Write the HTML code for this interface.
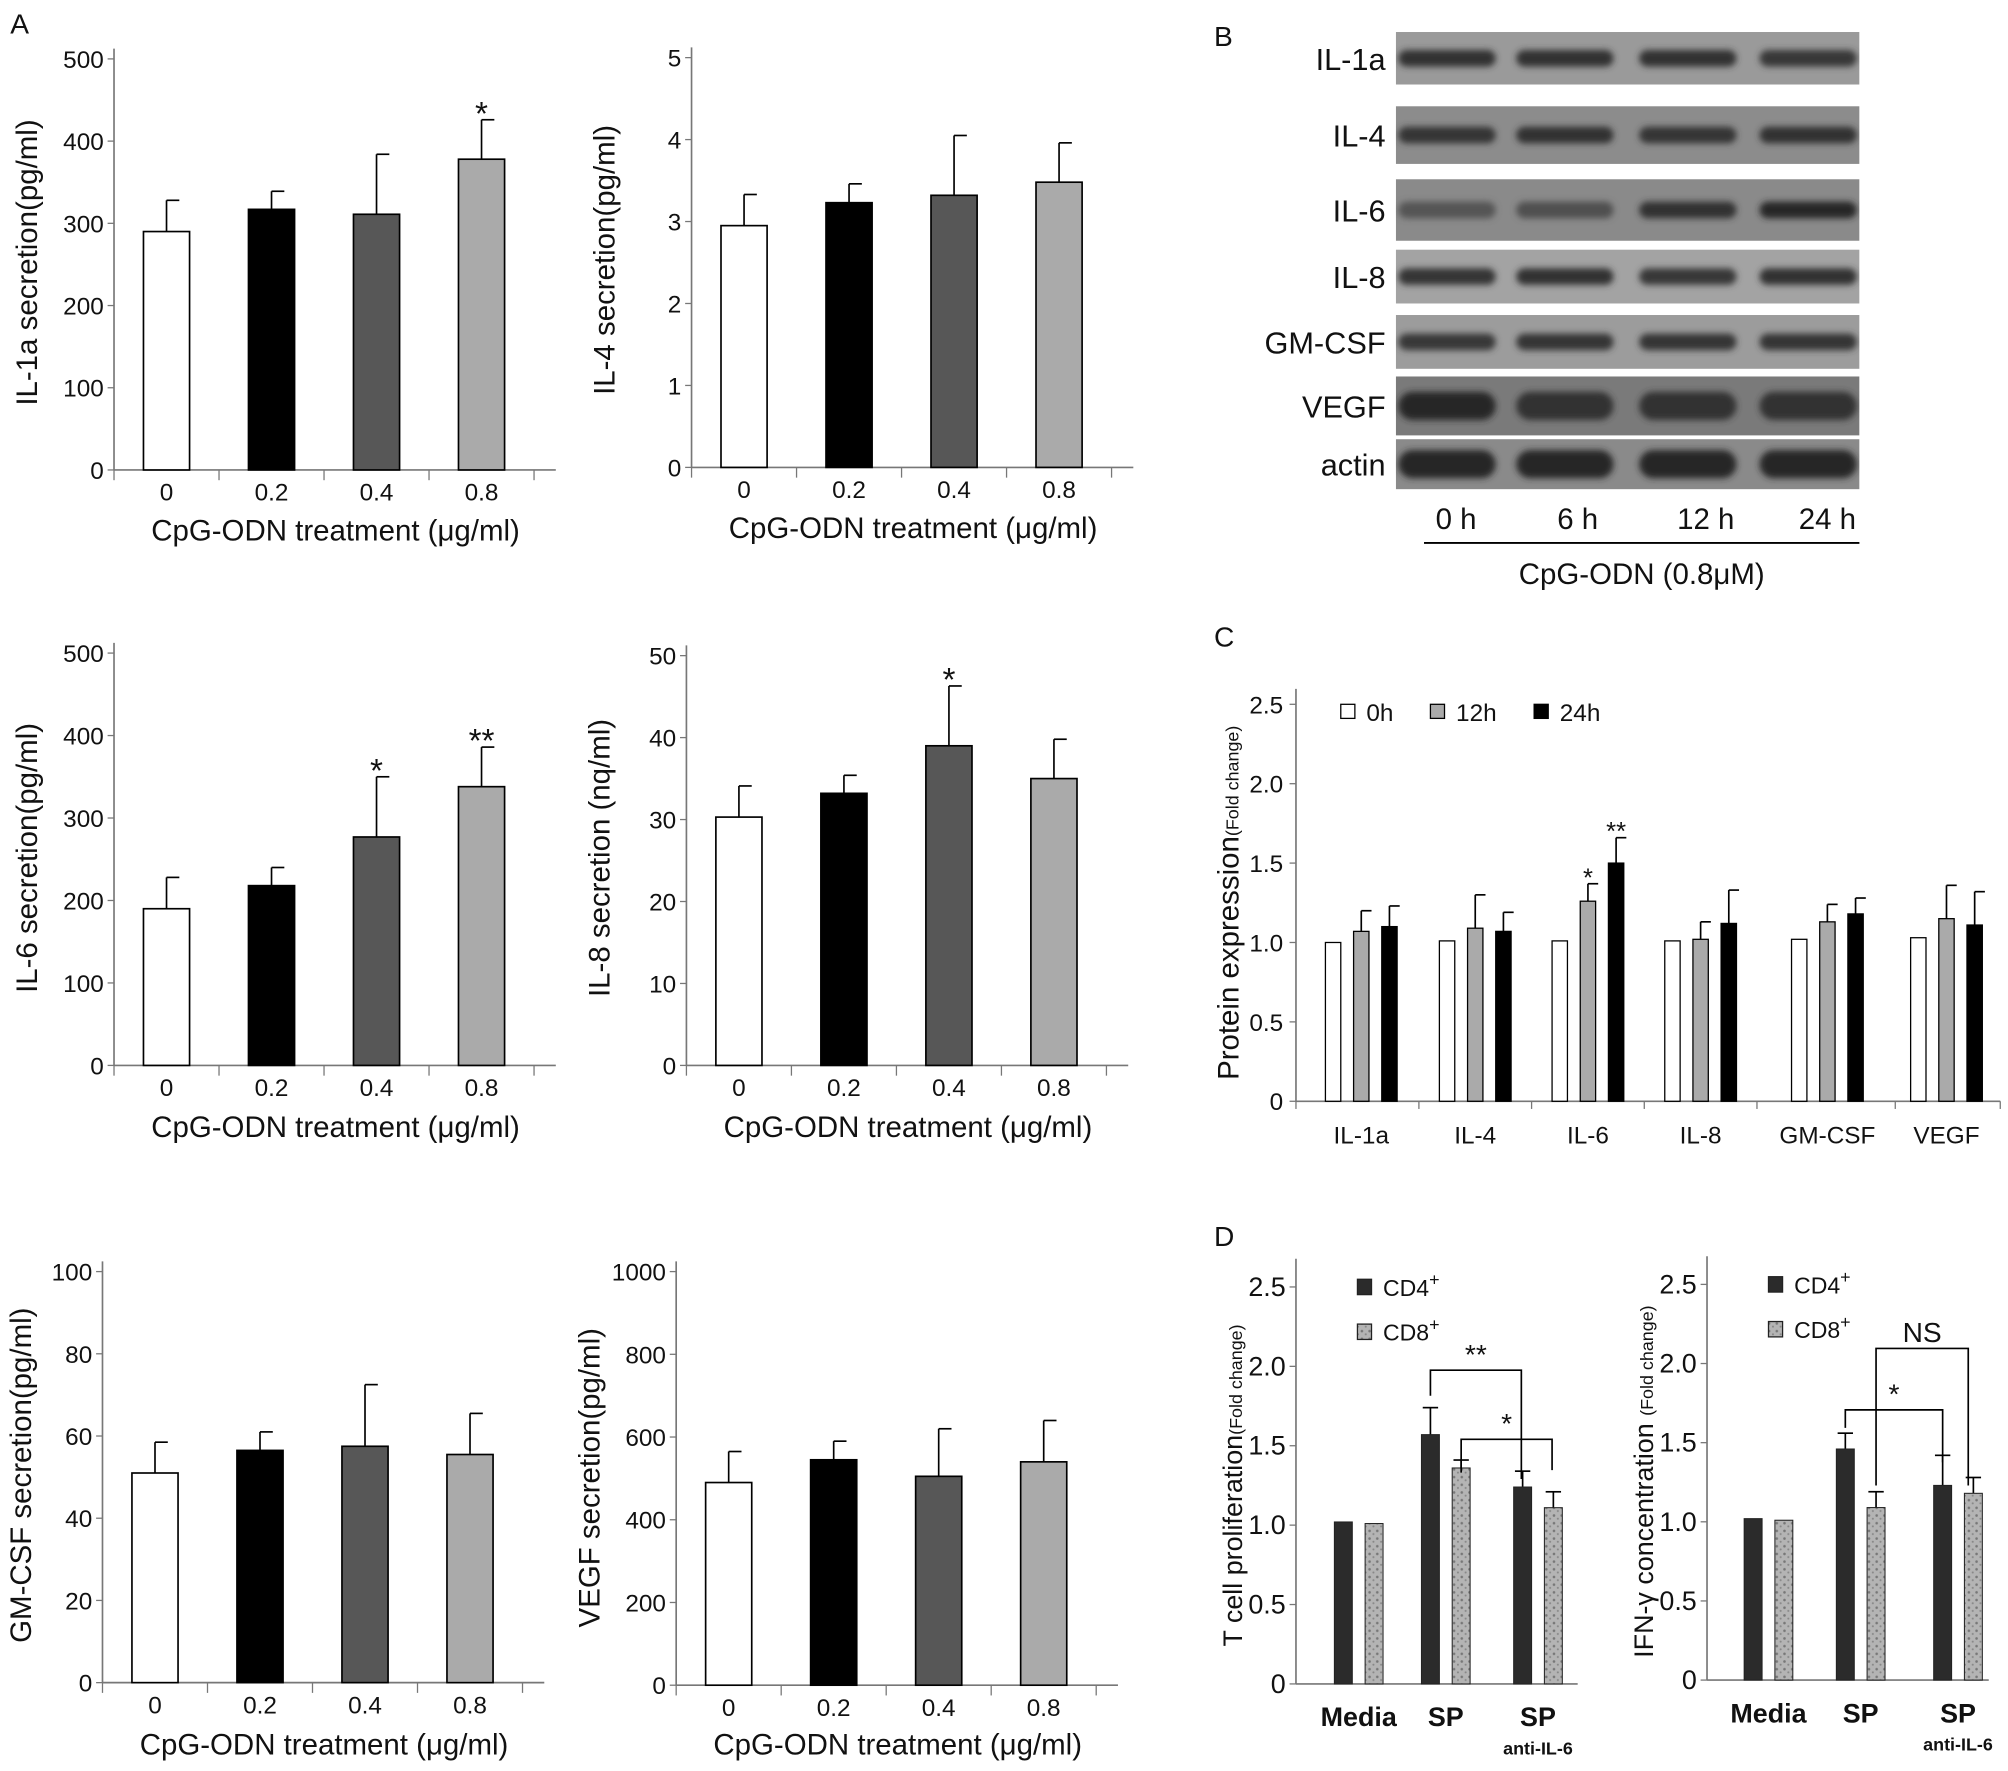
<!DOCTYPE html>
<html><head><meta charset="utf-8">
<style>
html,body{margin:0;padding:0;background:#fff;}
svg{display:block;}
text{font-family:"Liberation Sans","DejaVu Sans",sans-serif;fill:#111;}
</style></head>
<body>
<svg id="fig" width="2008" height="1771" viewBox="0 0 1568 1383" xmlns="http://www.w3.org/2000/svg">
<defs>
<pattern id="speck" width="6" height="6" patternUnits="userSpaceOnUse">
<rect width="6" height="6" fill="#b4b4b4"/><circle cx="1.5" cy="1.5" r="1" fill="#777"/><circle cx="4.5" cy="4" r="0.8" fill="#888"/>
</pattern>
<filter id="blur" x="-20%" y="-50%" width="140%" height="200%"><feGaussianBlur stdDeviation="2.5"/></filter>
<clipPath id="blotclip"><rect x="1090" y="0" width="362" height="400"/></clipPath>
</defs>
<text x="8" y="26" font-size="22">A</text>
<text x="948" y="36" font-size="22">B</text>
<text x="948" y="505" font-size="22">C</text>
<text x="948" y="973" font-size="22">D</text>
<g id="g"></g>
</svg>
<script>
// ---- Panel A data ----
const doseLabels=["0","0.2","0.4","0.8"];
const il1aVals=[290,317,311,378]; const il1aErr=[38,22,73,48]; const il1aSig=["","","","*"];
const il4Vals=[2.95,3.23,3.32,3.48]; const il4Err=[0.38,0.23,0.73,0.48]; const il4Sig=["","","",""];
const il6Vals=[190,218,277,338]; const il6Err=[38,22,73,48]; const il6Sig=["","","*","**"];
const il8Vals=[30.3,33.2,39,35]; const il8Err=[3.8,2.2,7.3,4.8]; const il8Sig=["","","*",""];
const gmVals=[51,56.5,57.5,55.5]; const gmErr=[7.5,4.5,15,10]; const gmSig=["","","",""];
const vegfVals=[490,545,505,540]; const vegfErr=[75,45,115,100]; const vegfSig=["","","",""];
const il1aTicks=[0,100,200,300,400,500];
const il4Ticks=[0,1,2,3,4,5];
const il6Ticks=[0,100,200,300,400,500];
const il8Ticks=[0,10,20,30,40,50];
const gmTicks=[0,20,40,60,80,100];
const vegfTicks=[0,200,400,600,800,1000];
// ---- Panel C data ----
const cCats=["IL-1a","IL-4","IL-6","IL-8","GM-CSF","VEGF"];
const c0h=[1.0,1.01,1.01,1.01,1.02,1.03];
const c12h=[1.07,1.09,1.26,1.02,1.13,1.15];
const c12hErr=[0.13,0.21,0.11,0.11,0.11,0.21];
const c24h=[1.10,1.07,1.50,1.12,1.18,1.11];
const c24hErr=[0.13,0.12,0.16,0.21,0.10,0.21];
const c12hSig=["","","*","","",""];
const c24hSig=["","","**","","",""];
const foldTicks=["0","0.5","1.0","1.5","2.0","2.5"];
// ---- Panel D data ----
const dCats=["Media","SP","SP"];
const d1CD4=[1.02,1.57,1.24]; const d1CD4Err=[0,0.17,0.10];
const d1CD8=[1.01,1.36,1.11]; const d1CD8Err=[0,0.05,0.10];
const d2CD4=[1.02,1.46,1.23]; const d2CD4Err=[0,0.10,0.19];
const d2CD8=[1.01,1.09,1.18]; const d2CD8Err=[0,0.10,0.10];
// ---- Panel B data (band intensity 0..1) ----
const blotRows=["IL-1a","IL-4","IL-6","IL-8","GM-CSF","VEGF","actin"];
const blotTimes=["0 h","6 h","12 h","24 h"];
const blotIntensity=[[0.9,0.9,0.9,0.8],[0.85,0.9,0.85,0.9],[0.45,0.5,0.9,1],[0.85,0.9,0.8,0.9],[0.8,0.85,0.85,0.85],[1,0.9,0.9,0.9],[1,1,1,1]];

const NS="http://www.w3.org/2000/svg";
const root=document.getElementById('g');
function el(tag,attrs,parent){const e=document.createElementNS(NS,tag);for(const k in attrs)e.setAttribute(k,attrs[k]);(parent||root).appendChild(e);return e;}
function txt(x,y,s,size,anchor,parent,extra){const t=el('text',Object.assign({x:x,y:y,'font-size':size,'text-anchor':anchor||'middle'},extra||{}),parent);t.textContent=s;return t;}

function panelA(name,ax,base,top,ticks,vals,errs,sig,ylabel,xlabelY){
  const g=el('g',{});
  
  
  const max=ticks[ticks.length-1];
  const y=v=>base-(v/max)*(base-top);
  el('line',{x1:ax,y1:top-8,x2:ax,y2:base,stroke:'#777','stroke-width':1.3},g);
  el('line',{x1:ax,y1:base,x2:ax+345,y2:base,stroke:'#777','stroke-width':1.3},g);
  ticks.forEach(t=>{
    el('line',{x1:ax-5,y1:y(t),x2:ax,y2:y(t),stroke:'#777'},g);
    const tl=txt(ax-8,y(t)+7,String(t),19,'end',g);
    
    
  });
  for(let i=0;i<=4;i++) el('line',{x1:ax+i*82,y1:base,x2:ax+i*82,y2:base+8,stroke:'#777'},g);
  const fills=['#fff','#000','#575757','#aaa'];
  vals.forEach((v,i)=>{
    const cx=ax+41+i*82;
    const e=errs[i];
    el('line',{x1:cx,y1:y(v),x2:cx,y2:y(v+e),stroke:'#000','stroke-width':1.3},g);
    el('line',{x1:cx,y1:y(v+e),x2:cx+10,y2:y(v+e),stroke:'#000','stroke-width':1.3},g);
    const b=el('rect',{x:cx-18,y:y(v),width:36,height:base-y(v),fill:fills[i],stroke:'#000','stroke-width':1.3},g);
    
    
    if(sig[i]){txt(cx,y(v+e)+4,sig[i],26,'middle',g);}
    const xl=txt(cx,base+24,doseLabels[i],19,'middle',g);
    
    
  });
  const xt=txt(ax+173,xlabelY,'CpG-ODN treatment (μg/ml)',23,'middle',g);
  
  
  const lx=Math.max(ax-60,24);
  const yt=txt(0,0,ylabel,23,'middle',g,{transform:`translate(${lx},${base-162}) rotate(-90)`});
  
  
}
panelA('il1a',89,367,46,il1aTicks,il1aVals,il1aErr,il1aSig,'IL-1a  secretion(pg/ml)',422);
panelA('il4',540,365,45,il4Ticks,il4Vals,il4Err,il4Sig,'IL-4  secretion(pg/ml)',420);
panelA('il6',89,832,510,il6Ticks,il6Vals,il6Err,il6Sig,'IL-6 secretion(pg/ml)',888);
panelA('il8',536,832,512,il8Ticks,il8Vals,il8Err,il8Sig,'IL-8 secretion (nq/ml)',888);
panelA('gmcsf',80,1314,993,gmTicks,gmVals,gmErr,gmSig,'GM-CSF secretion(pg/ml)',1370);
panelA('vegf',528,1316,993,vegfTicks,vegfVals,vegfErr,vegfSig,'VEGF secretion(pg/ml)',1370);

// ---- Panel B: western blot ----
(function(){
  const g=el('g',{});
  
  
  const rows=[[25,66],[83,128],[140,188],[195,237],[246,288],[294,340],[343,382]];
  const bgs=['#9a9a9a','#8c8c8c','#8a8a8a','#a3a3a3','#9c9c9c','#7a7a7a','#8a8a8a'];
  const lanes=[1130,1222,1318,1412];
  const bands=el('g',{'clip-path':'url(#blotclip)'},g);
  rows.forEach((r,i)=>{
    el('rect',{x:1090,y:r[0],width:362,height:r[1]-r[0],fill:bgs[i]},bands);
    const cy=(r[0]+r[1])/2;
    const h=(i>=5?22:13);
    blotIntensity[i].forEach((v,j)=>{
      const c=Math.round(40+(1-v)*80);
      el('rect',{x:lanes[j]-38,y:cy-h/2,width:76,height:h,rx:h/2,fill:`rgb(${c},${c},${c})`,filter:'url(#blur)'},bands);
    });
    const lab=txt(1082,cy+9,blotRows[i],24,'end',g);
    
    
  });
  [1137,1232,1332,1427].forEach((x,j)=>{txt(x,413,blotTimes[j],23,'middle',g);});
  el('line',{x1:1112,y1:424,x2:1452,y2:424,stroke:'#000','stroke-width':1.5},g);
  txt(1282,456,'CpG-ODN  (0.8μM)',23,'middle',g);
})();

// ---- Panel C ----
(function(){
  const g=el('g',{});
  
  
  const ax=1012,base=860,top=550,max=2.5;
  const y=v=>base-(v/max)*(base-top);
  el('line',{x1:ax,y1:top-12,x2:ax,y2:base,stroke:'#777','stroke-width':1.3},g);
  el('line',{x1:ax,y1:base,x2:1562,y2:base,stroke:'#777','stroke-width':1.3},g);
  foldTicks.forEach((t,i)=>{const v=i*0.5;el('line',{x1:ax-5,y1:y(v),x2:ax,y2:y(v),stroke:'#777'},g);txt(ax-10,y(v)+7,t,19,'end',g);});
  const centers=[1063,1152,1240,1328,1427,1520];
  [1012,1108,1196,1284,1372,1480,1562].forEach(x=>el('line',{x1:x,y1:base,x2:x,y2:base+6,stroke:'#777'},g));
  const series=[[c0h,null,'#fff',null],[c12h,c12hErr,'#aaa',c12hSig],[c24h,c24hErr,'#000',c24hSig]];
  cCats.forEach((c,i)=>{
    series.forEach((s,k)=>{
      const cx=centers[i]+(k-1)*22;const v=s[0][i];
      if(s[1]){const e=s[1][i];
        el('line',{x1:cx,y1:y(v),x2:cx,y2:y(v+e),stroke:'#000','stroke-width':1.3},g);
        el('line',{x1:cx,y1:y(v+e),x2:cx+8,y2:y(v+e),stroke:'#000','stroke-width':1.3},g);
        if(s[3][i]) txt(cx,y(v+e)+2,s[3][i],20,'middle',g);}
      const b=el('rect',{x:cx-6,y:y(v),width:12,height:base-y(v),fill:s[2],stroke:'#000','stroke-width':1},g);
      
      
    });
    txt(centers[i],893,c,19,'middle',g);
  });
  [['0h','#fff',1047],['12h','#aaa',1117],['24h','#000',1198]].forEach(l=>{
    const lg=el('g',{},g);
    
    
    el('rect',{x:l[2],y:550,width:11,height:11,fill:l[1],stroke:'#000'},lg);
    txt(l[2]+20,563,l[0],19,'start',lg);
  });
  const yt=txt(0,0,'Protein expression',23,'middle',g,{transform:'translate(967,705) rotate(-90)'});
  
  
  const sp=document.createElementNS(NS,'tspan');sp.setAttribute('font-size','14');sp.textContent='(Fold change)';yt.appendChild(sp);
})();

// ---- Panel D ----
function panelD(name,ax,base,top,cd4,cd4e,cd8,cd8e,centers,ylab1,labY,yLabX){
  const g=el('g',{});
  
  
  const max=2.5;const y=v=>base-(v/max)*(base-top);
  el('line',{x1:ax,y1:top-22,x2:ax,y2:base,stroke:'#777','stroke-width':1.3},g);
  el('line',{x1:ax,y1:base,x2:ax+220,y2:base,stroke:'#777','stroke-width':1.3},g);
  foldTicks.forEach((t,i)=>{const v=i*0.5;el('line',{x1:ax-5,y1:y(v),x2:ax,y2:y(v),stroke:'#777'},g);txt(ax-8,y(v)+7,t,21,'end',g);});
  centers.forEach((c,i)=>{
    [[cd4,cd4e,'#2b2b2b',-12],[cd8,cd8e,'url(#speck)',12]].forEach(s=>{
      const cx=c+s[3];const v=s[0][i];const e=s[1][i];
      if(e>0){el('line',{x1:cx,y1:y(v),x2:cx,y2:y(v+e),stroke:'#000','stroke-width':1.3},g);
        el('line',{x1:cx-6,y1:y(v+e),x2:cx+6,y2:y(v+e),stroke:'#000','stroke-width':1.3},g);}
      const b=el('rect',{x:cx-7,y:y(v),width:14,height:base-y(v),fill:s[2],stroke:'#222','stroke-width':0.8},g);
      
      
    });
    txt(c,labY,dCats[i],21,'middle',g,{'font-weight':'bold'});
  });
  txt(centers[2],labY+22,'anti-IL-6',14,'middle',g,{'font-weight':'bold'});
  [['CD4','#2b2b2b',top],['CD8','url(#speck)',top+35]].forEach(l=>{
    const lg=el('g',{},g);
    
    
    el('rect',{x:ax+48,y:l[2]-6,width:11,height:12,fill:l[1],stroke:'#222'},lg);
    const t=txt(ax+68,l[2]+7,l[0],18,'start',lg);
    const sp=document.createElementNS(NS,'tspan');sp.setAttribute('dy','-8');sp.setAttribute('font-size','14');sp.textContent='+';t.appendChild(sp);
  });
  const yt=txt(0,0,ylab1,21,'middle',g,{transform:`translate(${yLabX},${base-155}) rotate(-90)`});
  
  
  const sp=document.createElementNS(NS,'tspan');sp.setAttribute('font-size','14');sp.textContent='(Fold change)';yt.appendChild(sp);
}
panelD('t-cell-proliferation-chart',1012,1315,1005,d1CD4,d1CD4Err,d1CD8,d1CD8Err,[1061,1129,1201],'T cell proliferation',1348,970);
panelD('ifn-gamma-chart',1333,1312,1003,d2CD4,d2CD4Err,d2CD8,d2CD8Err,[1381,1453,1529],'IFN-γ concentration ',1345,1291);
(function(){
  const g=el('g',{});
  
  
  const br=[[1117,1070,1090,1188,1155,'**'],[1141,1124,1150,1212,1148,'*'],[1441,1101,1115,1517,1142,'*'],[1465,1053,1160,1537,1160,'NS']];
  br.forEach(b=>{
    el('polyline',{points:`${b[0]},${b[2]} ${b[0]},${b[1]} ${b[3]},${b[1]} ${b[3]},${b[4]}`,fill:'none',stroke:'#000','stroke-width':1.3},g);
    txt((b[0]+b[3])/2,b[1]-5,b[5],22,'middle',g);
  });
})();
</script>
</body></html>
